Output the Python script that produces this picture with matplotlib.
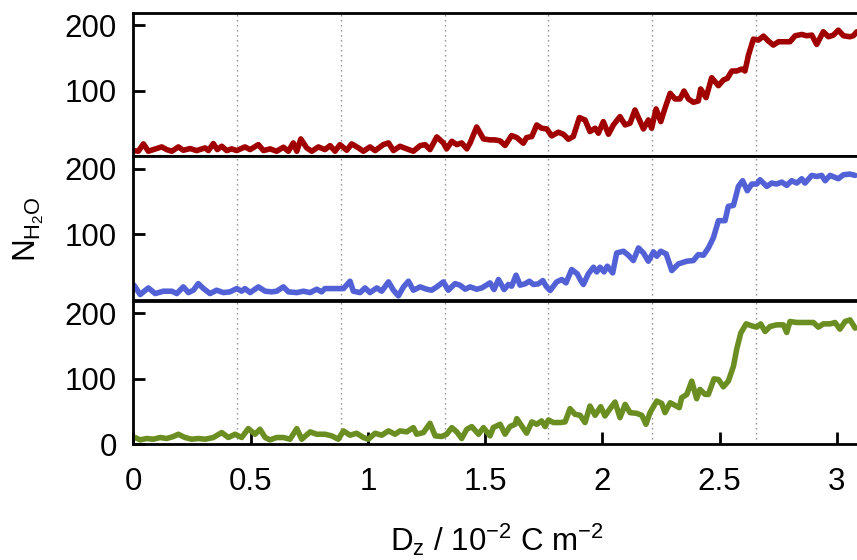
import matplotlib
matplotlib.use("Agg")
import matplotlib.pyplot as plt

plt.rcParams['font.family'] = ['Liberation Sans', 'DejaVu Sans']
plt.rcParams['mathtext.fontset'] = 'custom'
plt.rcParams['mathtext.rm'] = 'Liberation Sans'
plt.rcParams['mathtext.it'] = 'Liberation Sans:italic'

# ---------------- data ----------------
red_x = [0.000, 0.021, 0.043, 0.064, 0.085, 0.121, 0.142, 0.164, 0.192, 0.213,
         0.242, 0.270, 0.306, 0.320, 0.341, 0.358, 0.377, 0.398, 0.419, 0.441,
         0.476, 0.498, 0.533, 0.555, 0.583, 0.611, 0.640, 0.661, 0.682, 0.697,
         0.714, 0.739, 0.761, 0.789, 0.817, 0.839, 0.860, 0.881, 0.910, 0.931,
         0.960, 0.981, 1.009, 1.031, 1.066, 1.088, 1.109, 1.137, 1.166, 1.194,
         1.223, 1.244, 1.265, 1.294, 1.322, 1.336, 1.358, 1.379, 1.400, 1.422,
         1.436, 1.464, 1.493,
         1.521, 1.542, 1.564, 1.585, 1.613, 1.635, 1.663, 1.677, 1.699, 1.720,
         1.741, 1.763, 1.784, 1.812, 1.834, 1.855, 1.876, 1.902, 1.926, 1.947,
         1.969, 1.983, 2.004, 2.026, 2.047, 2.075, 2.097, 2.118, 2.139, 2.161,
         2.175, 2.196, 2.210, 2.229, 2.249, 2.267, 2.289, 2.310, 2.331, 2.348,
         2.367, 2.388, 2.409, 2.419, 2.442, 2.466, 2.495, 2.516, 2.533, 2.552,
         2.573, 2.594, 2.608, 2.623, 2.644, 2.665, 2.687, 2.708, 2.729, 2.751,
         2.779, 2.800, 2.822, 2.850, 2.871, 2.893, 2.914, 2.942, 2.964, 2.985,
         3.006, 3.028, 3.056, 3.070, 3.085]
red_y = [8.7, 7.7, 18.9, 7.7, 10.2, 14.3, 10.2, 7.7, 14.3, 9.2,
         11.8, 8.7, 12.8, 8.7, 19.4, 10.2, 15.3, 8.7, 11.3, 8.7,
         14.3, 10.2, 17.8, 8.7, 11.3, 7.7, 13.8, 7.7, 20.4, 7.7,
         26.5, 12.8, 7.7, 14.3, 10.2, 16.3, 7.7, 17.8, 9.2, 18.9,
         12.8, 7.7, 14.3, 8.7, 17.8, 20.4, 8.7, 15.3, 11.3, 7.7,
         16.3, 17.8, 10.2, 29.5, 20.4, 11.3, 22.9, 17.8, 20.4, 11.3,
         20.4, 44.7, 26.5,
         25.0, 25.0, 23.5, 16.4, 31.6, 28.6, 19.9, 28.6, 30.1, 47.8,
         42.8, 41.7, 31.1, 36.7, 33.6, 26.0, 30.1, 59.0, 55.4, 37.7,
         42.8, 35.2, 52.9, 33.6, 47.8, 60.5, 47.8, 50.4, 70.6, 52.9,
         41.7, 55.4, 42.8, 72.2, 52.9, 73.2, 96.0, 87.4, 87.4, 99.5,
         87.4, 82.3, 84.3, 102.6, 89.4, 119.8, 107.6, 116.3, 118.8, 130.0,
         130.0, 133.0, 130.0, 154.3, 178.6, 177.1, 183.2, 175.6, 169.5, 174.6,
         174.6, 174.6, 183.7, 185.7, 183.7, 184.7, 170.5, 189.8, 182.2, 184.7,
         192.3, 183.7, 182.2, 183.7, 189.8]

blue_x = [0.003, 0.029, 0.064, 0.093, 0.128, 0.164, 0.185, 0.213, 0.235, 0.256,
          0.277, 0.299, 0.327, 0.355, 0.384, 0.412, 0.441, 0.462, 0.476, 0.498,
          0.533, 0.562, 0.590, 0.611, 0.640, 0.661, 0.697, 0.725, 0.754, 0.782,
          0.803, 0.817, 0.839, 0.867, 0.896, 0.924, 0.938, 0.967, 0.988, 1.009,
          1.038, 1.059, 1.088, 1.109, 1.130, 1.152, 1.173, 1.194, 1.223, 1.251,
          1.272, 1.294, 1.322, 1.343, 1.372, 1.393, 1.415, 1.436, 1.464, 1.486,
          1.521, 1.538, 1.557, 1.581, 1.599, 1.613, 1.632, 1.649, 1.670, 1.689,
          1.706, 1.727, 1.746, 1.760, 1.777, 1.805, 1.827, 1.845, 1.869, 1.893,
          1.908, 1.919, 1.940, 1.962, 1.976, 1.990, 2.007, 2.021, 2.044, 2.061,
          2.090, 2.111, 2.132, 2.154, 2.175, 2.196, 2.218, 2.232, 2.249, 2.272,
          2.296, 2.324, 2.360, 2.388, 2.409, 2.431, 2.452, 2.473, 2.495, 2.523,
          2.537, 2.559, 2.580, 2.598, 2.618, 2.637, 2.658, 2.672, 2.701, 2.722,
          2.743, 2.765, 2.786, 2.807, 2.829, 2.850, 2.864, 2.893, 2.914, 2.935,
          2.950, 2.971, 2.992, 3.006, 3.028, 3.056, 3.078]
blue_y = [22.5, 8.3, 18.4, 9.8, 13.4, 13.4, 9.8, 20.0, 11.3, 14.9,
          25.0, 17.4, 9.8, 14.9, 11.3, 12.4, 17.4, 13.4, 17.4, 11.3,
          20.0, 13.4, 12.4, 13.4, 20.0, 12.4, 11.3, 13.4, 11.3, 16.4,
          12.4, 17.4, 17.4, 17.4, 17.4, 28.6, 13.4, 11.3, 18.4, 11.3,
          18.4, 13.4, 27.6, 14.9, 6.3, 20.0, 28.6, 14.9, 20.0, 16.4,
          14.9, 20.0, 27.6, 14.9, 25.0, 22.5, 16.4, 20.0, 16.4, 18.4,
          26.1, 15.9, 31.2, 15.9, 23.6, 21.0, 37.8, 22.6, 24.6, 28.6,
          23.6, 24.6, 29.7, 21.0, 14.4, 27.6, 31.2, 26.1, 46.4, 39.8,
          29.7, 23.6, 39.8, 49.9, 42.8, 49.9, 42.8, 51.5, 41.3, 71.7,
          74.3, 68.2, 60.1, 79.3, 71.7, 59.1, 73.3, 66.7, 74.3, 70.2,
          44.9, 55.0, 59.1, 60.1, 69.2, 68.2, 79.3, 94.6, 120.9, 120.9,
          142.7, 144.2, 173.1, 181.8, 166.5, 176.7, 176.7, 183.3, 173.1, 178.2,
          176.7, 179.7, 174.7, 181.8, 178.2, 184.8, 178.2, 189.9, 188.3, 189.9,
          181.8, 189.9, 186.8, 184.8, 190.9, 191.9, 189.9]

green_x = [0.007, 0.029, 0.057, 0.085, 0.114, 0.142, 0.171, 0.192, 0.220, 0.249,
           0.277, 0.306, 0.341, 0.377, 0.405, 0.434, 0.462, 0.490, 0.519, 0.540,
           0.562, 0.583, 0.611, 0.640, 0.668, 0.697, 0.718, 0.754, 0.782, 0.817,
           0.846, 0.874, 0.896, 0.924, 0.952, 0.981, 1.002, 1.031, 1.059, 1.088,
           1.116, 1.137, 1.166, 1.194, 1.208, 1.237, 1.265, 1.287, 1.315, 1.336,
           1.358, 1.379, 1.400, 1.422, 1.443, 1.472, 1.493,
           1.521, 1.535, 1.564, 1.585, 1.606, 1.628, 1.635, 1.656, 1.677, 1.699,
           1.720, 1.741, 1.756, 1.770, 1.791, 1.820, 1.841, 1.862, 1.883, 1.905,
           1.926, 1.947, 1.969, 1.993, 2.011, 2.033, 2.054, 2.075, 2.097, 2.118,
           2.146, 2.168, 2.186, 2.203, 2.232, 2.253, 2.267, 2.289, 2.310, 2.328,
           2.338, 2.360, 2.381, 2.402, 2.416, 2.438, 2.452, 2.476, 2.495, 2.516,
           2.537, 2.559, 2.573, 2.590, 2.613, 2.637, 2.658, 2.675, 2.694, 2.715,
           2.743, 2.772, 2.786, 2.800, 2.829, 2.864, 2.900, 2.921, 2.942, 2.971,
           2.992, 3.013, 3.035, 3.056, 3.078]
green_y = [10.6, 7.0, 9.1, 8.0, 10.6, 9.1, 12.1, 15.6, 10.6, 8.0,
           9.1, 8.0, 10.6, 18.2, 10.6, 15.6, 10.6, 24.2, 15.6, 23.2,
           10.6, 7.0, 10.6, 10.6, 8.0, 24.2, 8.0, 19.2, 15.6, 15.6,
           13.1, 8.0, 20.7, 14.1, 17.1, 10.6, 8.0, 17.1, 14.1, 20.7,
           15.6, 20.7, 19.2, 25.7, 15.6, 18.2, 32.3, 13.1, 12.1, 15.6,
           25.7, 19.2, 9.1, 23.2, 27.2, 15.6, 25.7,
           13.1, 25.8, 30.8, 15.7, 27.3, 30.8, 39.4, 28.3, 17.2, 34.4,
           30.8, 35.9, 27.3, 37.4, 33.4, 33.4, 34.4, 54.6, 46.0, 44.5,
           33.4, 58.6, 44.5, 57.6, 43.5, 54.6, 64.7, 40.9, 61.1, 48.5,
           47.5, 44.5, 30.8, 48.5, 66.2, 62.6, 48.5, 63.6, 59.6, 56.1,
           71.2, 76.3, 96.5, 69.7, 83.9, 76.3, 76.3, 100.0, 99.0, 87.9,
           96.5, 119.2, 145.5, 169.7, 183.8, 180.8, 178.8, 183.8, 172.2, 179.8,
           182.3, 182.3, 170.7, 187.4, 185.9, 185.9, 185.9, 178.8, 183.8, 183.8,
           185.9, 175.8, 187.4, 189.9, 177.3]

series = [(red_x, red_y, '#a00000'),
          (blue_x, blue_y, '#5262d6'),
          (green_x, green_y, '#6b8e23')]

vlines = [0.4425, 0.885, 1.3275, 1.77, 2.2125, 2.655]
xticks = [0, 0.5, 1, 1.5, 2, 2.5, 3]
xticklabels = ['0', '0.5', '1', '1.5', '2', '2.5', '3']

# ---------------- figure ----------------
fig = plt.figure(figsize=(8.57, 5.60), dpi=100)
left = 0.1556
width = 0.8483
bottoms = [0.7209, 0.4643, 0.2063]
height = 0.2566
FS = 22.5

for i, (xs, ys, col) in enumerate(series):
    ax = fig.add_axes([left, bottoms[i], width, height])
    for v in vlines:
        ax.axvline(v, color='#888888', lw=1.0, ls=(0, (1, 2.6)), zorder=1)
    ax.plot(xs, ys, color=col, lw=4.0, solid_joinstyle='round',
            solid_capstyle='round', zorder=3)
    ax.set_xlim(0, 3.1)
    ax.set_ylim(0, 219)
    for s in ax.spines.values():
        s.set_linewidth(2.0)
        s.set_zorder(4)
    ax.spines['right'].set_visible(False)
    ax.tick_params(axis='both', direction='in', length=8.5, width=2.0,
                   labelsize=FS, right=False, top=False)
    ax.tick_params(axis='y', pad=12)
    if i < 2:
        ax.set_yticks([100, 200])
        ax.set_xticks(xticks)
        ax.tick_params(axis='x', bottom=False, labelbottom=False)
    else:
        ax.set_yticks([0, 100, 200])
        ax.set_xticks(xticks)
        ax.set_xticklabels(xticklabels)
        ax.tick_params(axis='x', pad=16)

fig.text(29 / 857, 1 - 229 / 560, r'$\mathrm{N_{H_2O}}$', rotation=90,
         ha='center', va='center', fontsize=FS)
fig.text(497 / 857, 1 - 540 / 560, r'$\mathrm{D_z}$ / 10$^{-2}$ C m$^{-2}$',
         ha='center', va='center', fontsize=FS)

fig.savefig('out.png', dpi=100)
